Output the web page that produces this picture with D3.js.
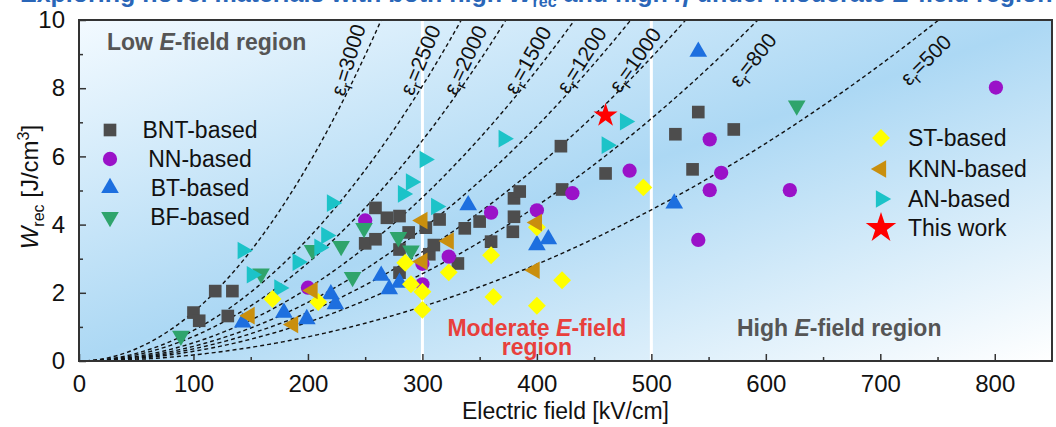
<!DOCTYPE html>
<html>
<head>
<style>
  body { margin: 0; background: #fff; }
  svg { display: block; font-family: "Liberation Sans", Arial, sans-serif; }
</style>
</head>
<body>
<script src="https://d3js.org/d3.v7.min.js"></script>
<div id="chart"></div>
<script>
// data: [E (kV/cm), Wrec (J/cm3)]
const bntData = [[100,1.42],[105,1.18],[119,2.05],[134,2.05],[130,1.32],[250,3.45],[259,3.57],[259,4.49],[269,4.20],[280,4.25],
  [280,3.27],[288,3.77],[280,2.59],[303,3.91],[306,3.13],[310,3.40],[315,4.15],[331,2.86],[337,3.89],[350,4.09],[360,3.50],
  [380,4.23],[379,3.79],[380,4.77],[385,4.97],[421,6.30],[422,5.03],[460,5.50],[521,6.65],[541,7.30],[536,5.62],[572,6.79]]
const nnData = [[200,2.15],[250,4.12],[300,2.85],[300,2.25],[323,3.06],[360,4.35],[400,4.42],[431,4.92],[481,5.58],
  [541,3.55],[551,6.50],[551,5.01],[561,5.52],[621,5.01],[801,8.02]]
const btData = [[143,1.13],[179,1.42],[199,1.23],[220,1.96],[224,1.67],[264,2.50],[271,2.11],[280,2.30],[340,4.57],
  [400,3.40],[410,3.57],[520,4.62],[541,9.07]]
const bfData = [[89,0.74],[159,2.56],[204,3.25],[229,3.37],[239,2.46],[249,3.90],[279,3.63],[290,3.24],[627,7.49]]
const anData = [[143,3.24],[151,2.53],[175,2.14],[191,2.90],[210,3.33],[216,3.68],[221,4.63],[283,4.90],[290,5.25],
  [302,5.91],[312,4.53],[371,6.52],[461,6.33],[477,7.02]]
const stData = [[169,1.82],[209,1.73],[285,2.88],[290,2.25],[300,2.03],[300,1.50],[323,2.60],[360,3.10],[362,1.88],
  [400,3.92],[400,1.62],[422,2.37],[493,5.09]]
const knnData = [[149,1.33],[187,1.07],[204,2.07],[300,4.12],[300,2.92],[323,3.52],[400,4.06],[398,2.66]]
const thisWork = [[460,7.20]]

// dashed eps_r curves: label and the field where each curve reaches 10 J/cm3
const epsLabels = ["3000","2500","2000","1500","1200","1000","800","500"]
const epsTopField = [264,334,373,433,482,530,593,751]

const xTicks = [0,100,200,300,400,500,600,700,800]
const yTicks = [0,2,4,6,8,10]
const regionBounds = [300,500]

const width = 1056
const height = 427
const plot = { left: 79, right: 1052, top: 20, bottom: 361 }

const x = d3.scaleLinear().domain([0, 850]).range([plot.left, plot.right])
const y = d3.scaleLinear().domain([0, 10]).range([plot.bottom, plot.top])

const svg = d3.select("#chart").append("svg").attr("width", width).attr("height", height)
const defs = svg.append("defs")

// diagonal band of blue running from bottom-left to top-right
const pw = plot.right - plot.left, ph = plot.bottom - plot.top
const len = Math.hypot(pw, ph)
const nx = ph / len, ny = pw / len
const cx = (plot.left + plot.right) / 2, cy = (plot.top + plot.bottom) / 2
const half = Math.abs((plot.left - cx) * nx + (plot.top - cy) * ny)
const grad = defs.append("linearGradient").attr("id", "bg").attr("gradientUnits", "userSpaceOnUse")
  .attr("x1", cx - half * nx).attr("y1", cy - half * ny)
  .attr("x2", cx + half * nx).attr("y2", cy + half * ny)
grad.append("stop").attr("offset", 0).attr("stop-color", "#f3faff")
grad.append("stop").attr("offset", 0.5).attr("stop-color", "#acd8f4")
grad.append("stop").attr("offset", 1).attr("stop-color", "#ffffff")

defs.append("clipPath").attr("id", "clip").append("rect")
  .attr("x", plot.left).attr("y", plot.top).attr("width", pw).attr("height", ph)

svg.append("rect").attr("x", plot.left).attr("y", plot.top).attr("width", pw).attr("height", ph)
  .attr("fill", "url(#bg)")

// region boundaries
svg.append("g").selectAll("line").data(regionBounds).enter().append("line")
  .attr("x1", d => x(d)).attr("x2", d => x(d))
  .attr("y1", plot.top).attr("y2", plot.bottom)
  .attr("stroke", "#fff").attr("stroke-width", 3)

// title (cut off at the top of the picture)
const title = svg.append("text").attr("x", 20).attr("y", 2)
  .attr("font-size", 25).attr("font-weight", "bold").attr("fill", "#2a66b8")
title.append("tspan").text("Exploring novel materials with both high ")
title.append("tspan").attr("font-style", "italic").text("W")
title.append("tspan").attr("font-size", 16).attr("dy", 5).text("rec")
title.append("tspan").attr("dy", -5).text(" and high ")
title.append("tspan").attr("font-style", "italic").text("η")
title.append("tspan").text(" under moderate ")
title.append("tspan").attr("font-style", "italic").text("E")
title.append("tspan").text("-field region")

// eps_r curves
const curveG = svg.append("g").attr("clip-path", "url(#clip)")
const line = d3.line().x(d => x(d[0])).y(d => y(d[1]))
epsTopField.forEach(top => {
  const pts = d3.range(0, top * 1.02, 2).map(e => [e, 10 * (e / top) ** 2])
  curveG.append("path").attr("d", line(pts)).attr("fill", "none")
    .attr("stroke", "#111").attr("stroke-width", 1.4).attr("stroke-dasharray", "4,3")
})

const labelW = 8.83
const labelDx = [-15, -18, -15, -17, -16, -14, 36, 39]
epsTopField.forEach((top, i) => {
  const e = top * Math.sqrt(labelW / 10)
  const slope = (20 * e / (top * top)) * (y(0) - y(1)) / (x(1) - x(0))
  const ang = Math.atan(slope) * 180 / Math.PI + 8
  const t = svg.append("text")
    .attr("transform", `translate(${x(e) + labelDx[i]},${y(labelW)}) rotate(${-ang})`)
    .attr("text-anchor", "middle").attr("dy", "0.35em")
    .attr("font-size", 21).attr("fill", "#111")
  t.append("tspan").text("ε")
  t.append("tspan").attr("font-size", 15).attr("dy", 5).text("r")
  t.append("tspan").attr("dy", -5).text("=" + epsLabels[i])
})

// region labels
const lowT = svg.append("text").attr("x", 107).attr("y", 50).attr("font-size", 23)
  .attr("font-weight", "bold").attr("fill", "#555")
lowT.append("tspan").text("Low ")
lowT.append("tspan").attr("font-style", "italic").text("E")
lowT.append("tspan").text("-field region")

const modT = svg.append("g").attr("font-size", 23).attr("font-weight", "bold").attr("fill", "#e8403c")
  .attr("text-anchor", "middle")
modT.append("text").attr("x", x(400)).attr("y", 336)
  .html('Moderate <tspan font-style="italic">E</tspan>-field')
modT.append("text").attr("x", x(400)).attr("y", 355).text("region")

const highT = svg.append("text").attr("x", 737).attr("y", 336).attr("font-size", 23)
  .attr("font-weight", "bold").attr("fill", "#555")
highT.html('High <tspan font-style="italic">E</tspan>-field region')

// markers
const series = [
  { name: "BNT-based", data: bntData, color: "#4d4d4d", type: d3.symbolSquare, size: 160, rot: 0 },
  { name: "NN-based", data: nnData, color: "#9a12c8", type: d3.symbolCircle, size: 160, rot: 0 },
  { name: "BT-based", data: btData, color: "#1d6fdf", type: d3.symbolTriangle, size: 135, rot: 0 },
  { name: "BF-based", data: bfData, color: "#2fa46c", type: d3.symbolTriangle, size: 135, rot: 180 },
  { name: "AN-based", data: anData, color: "#1cc3c8", type: d3.symbolTriangle, size: 135, rot: 90 },
  { name: "ST-based", data: stData, color: "#ffff00", type: d3.symbolSquare, size: 160, rot: 45 },
  { name: "KNN-based", data: knnData, color: "#c98f0e", type: d3.symbolTriangle, size: 135, rot: -90 },
  { name: "This work", data: thisWork, color: "#ff0000", type: d3.symbolStar, size: 180, rot: 0 }
]

series.forEach(s => {
  svg.append("g").selectAll("path").data(s.data).enter().append("path")
    .attr("d", d3.symbol().type(s.type).size(s.size))
    .attr("transform", d => `translate(${x(d[0])},${y(d[1])}) rotate(${s.rot})`)
    .attr("fill", s.color)
})

// axes
const frame = svg.append("g")
const xMajor = d3.axisBottom(x).tickValues(xTicks).tickSize(-7).tickPadding(14)
const xMinor = d3.axisBottom(x).tickValues(d3.range(50, 850, 100)).tickSize(-4).tickFormat("")
const yMajor = d3.axisLeft(y).tickValues(yTicks).tickSize(-7).tickPadding(14)
const yMinor = d3.axisLeft(y).tickValues([1,3,5,7,9]).tickSize(-4).tickFormat("")

const styleAxis = g => {
  g.select(".domain").remove()
  g.selectAll("line").attr("stroke", "#333").attr("stroke-width", 1.5)
  g.selectAll("text").attr("font-size", 24).attr("fill", "#111")
    .attr("font-family", '"Liberation Sans", Arial, sans-serif')
}
frame.append("g").attr("transform", `translate(0,${plot.bottom})`).call(xMajor).call(styleAxis)
frame.append("g").attr("transform", `translate(0,${plot.bottom})`).call(xMinor).call(styleAxis)
frame.append("g").attr("transform", `translate(${plot.left},0)`).call(yMajor).call(styleAxis)
frame.append("g").attr("transform", `translate(${plot.left},0)`).call(yMinor).call(styleAxis)

frame.append("rect").attr("x", plot.left).attr("y", plot.top).attr("width", pw).attr("height", ph)
  .attr("fill", "none").attr("stroke", "#333").attr("stroke-width", 2)

// axis titles
svg.append("text").attr("x", (plot.left + plot.right) / 2).attr("y", 419)
  .attr("text-anchor", "middle").attr("font-size", 23).attr("fill", "#111")
  .text("Electric field [kV/cm]")

const yt = svg.append("text").attr("transform", `translate(38,${y(5.1)}) rotate(-90)`)
  .attr("text-anchor", "middle").attr("font-size", 24).attr("fill", "#111")
yt.append("tspan").attr("font-style", "italic").text("W")
yt.append("tspan").attr("font-size", 16).attr("dy", 6).text("rec")
yt.append("tspan").attr("dy", -6).text(" [J/cm")
yt.append("tspan").attr("font-size", 16).attr("dy", -9).text("3")
yt.append("tspan").attr("dy", 9).text("]")

// legends
const leftLegend = series.slice(0, 4)
const leftY = [130, 159, 188, 217]
leftLegend.forEach((s, i) => {
  svg.append("path").attr("d", d3.symbol().type(s.type).size(s.size))
    .attr("transform", `translate(110,${leftY[i]}) rotate(${s.rot})`).attr("fill", s.color)
  svg.append("text").attr("x", 200).attr("y", leftY[i]).attr("dy", "0.35em")
    .attr("text-anchor", "middle").attr("font-size", 23).attr("fill", "#111").text(s.name)
})

const rightLegend = [series[5], series[6], series[4], series[7]]
const rightY = [138, 169, 199, 228]
rightLegend.forEach((s, i) => {
  svg.append("path").attr("d", d3.symbol().type(s.type).size(s.size * (s.type === d3.symbolStar ? 1.6 : 1)))
    .attr("transform", `translate(881,${rightY[i]}) rotate(${s.rot})`).attr("fill", s.color)
  svg.append("text").attr("x", 908).attr("y", rightY[i]).attr("dy", "0.35em")
    .attr("font-size", 23).attr("fill", "#111").text(s.name)
})
</script>
</body>
</html>
